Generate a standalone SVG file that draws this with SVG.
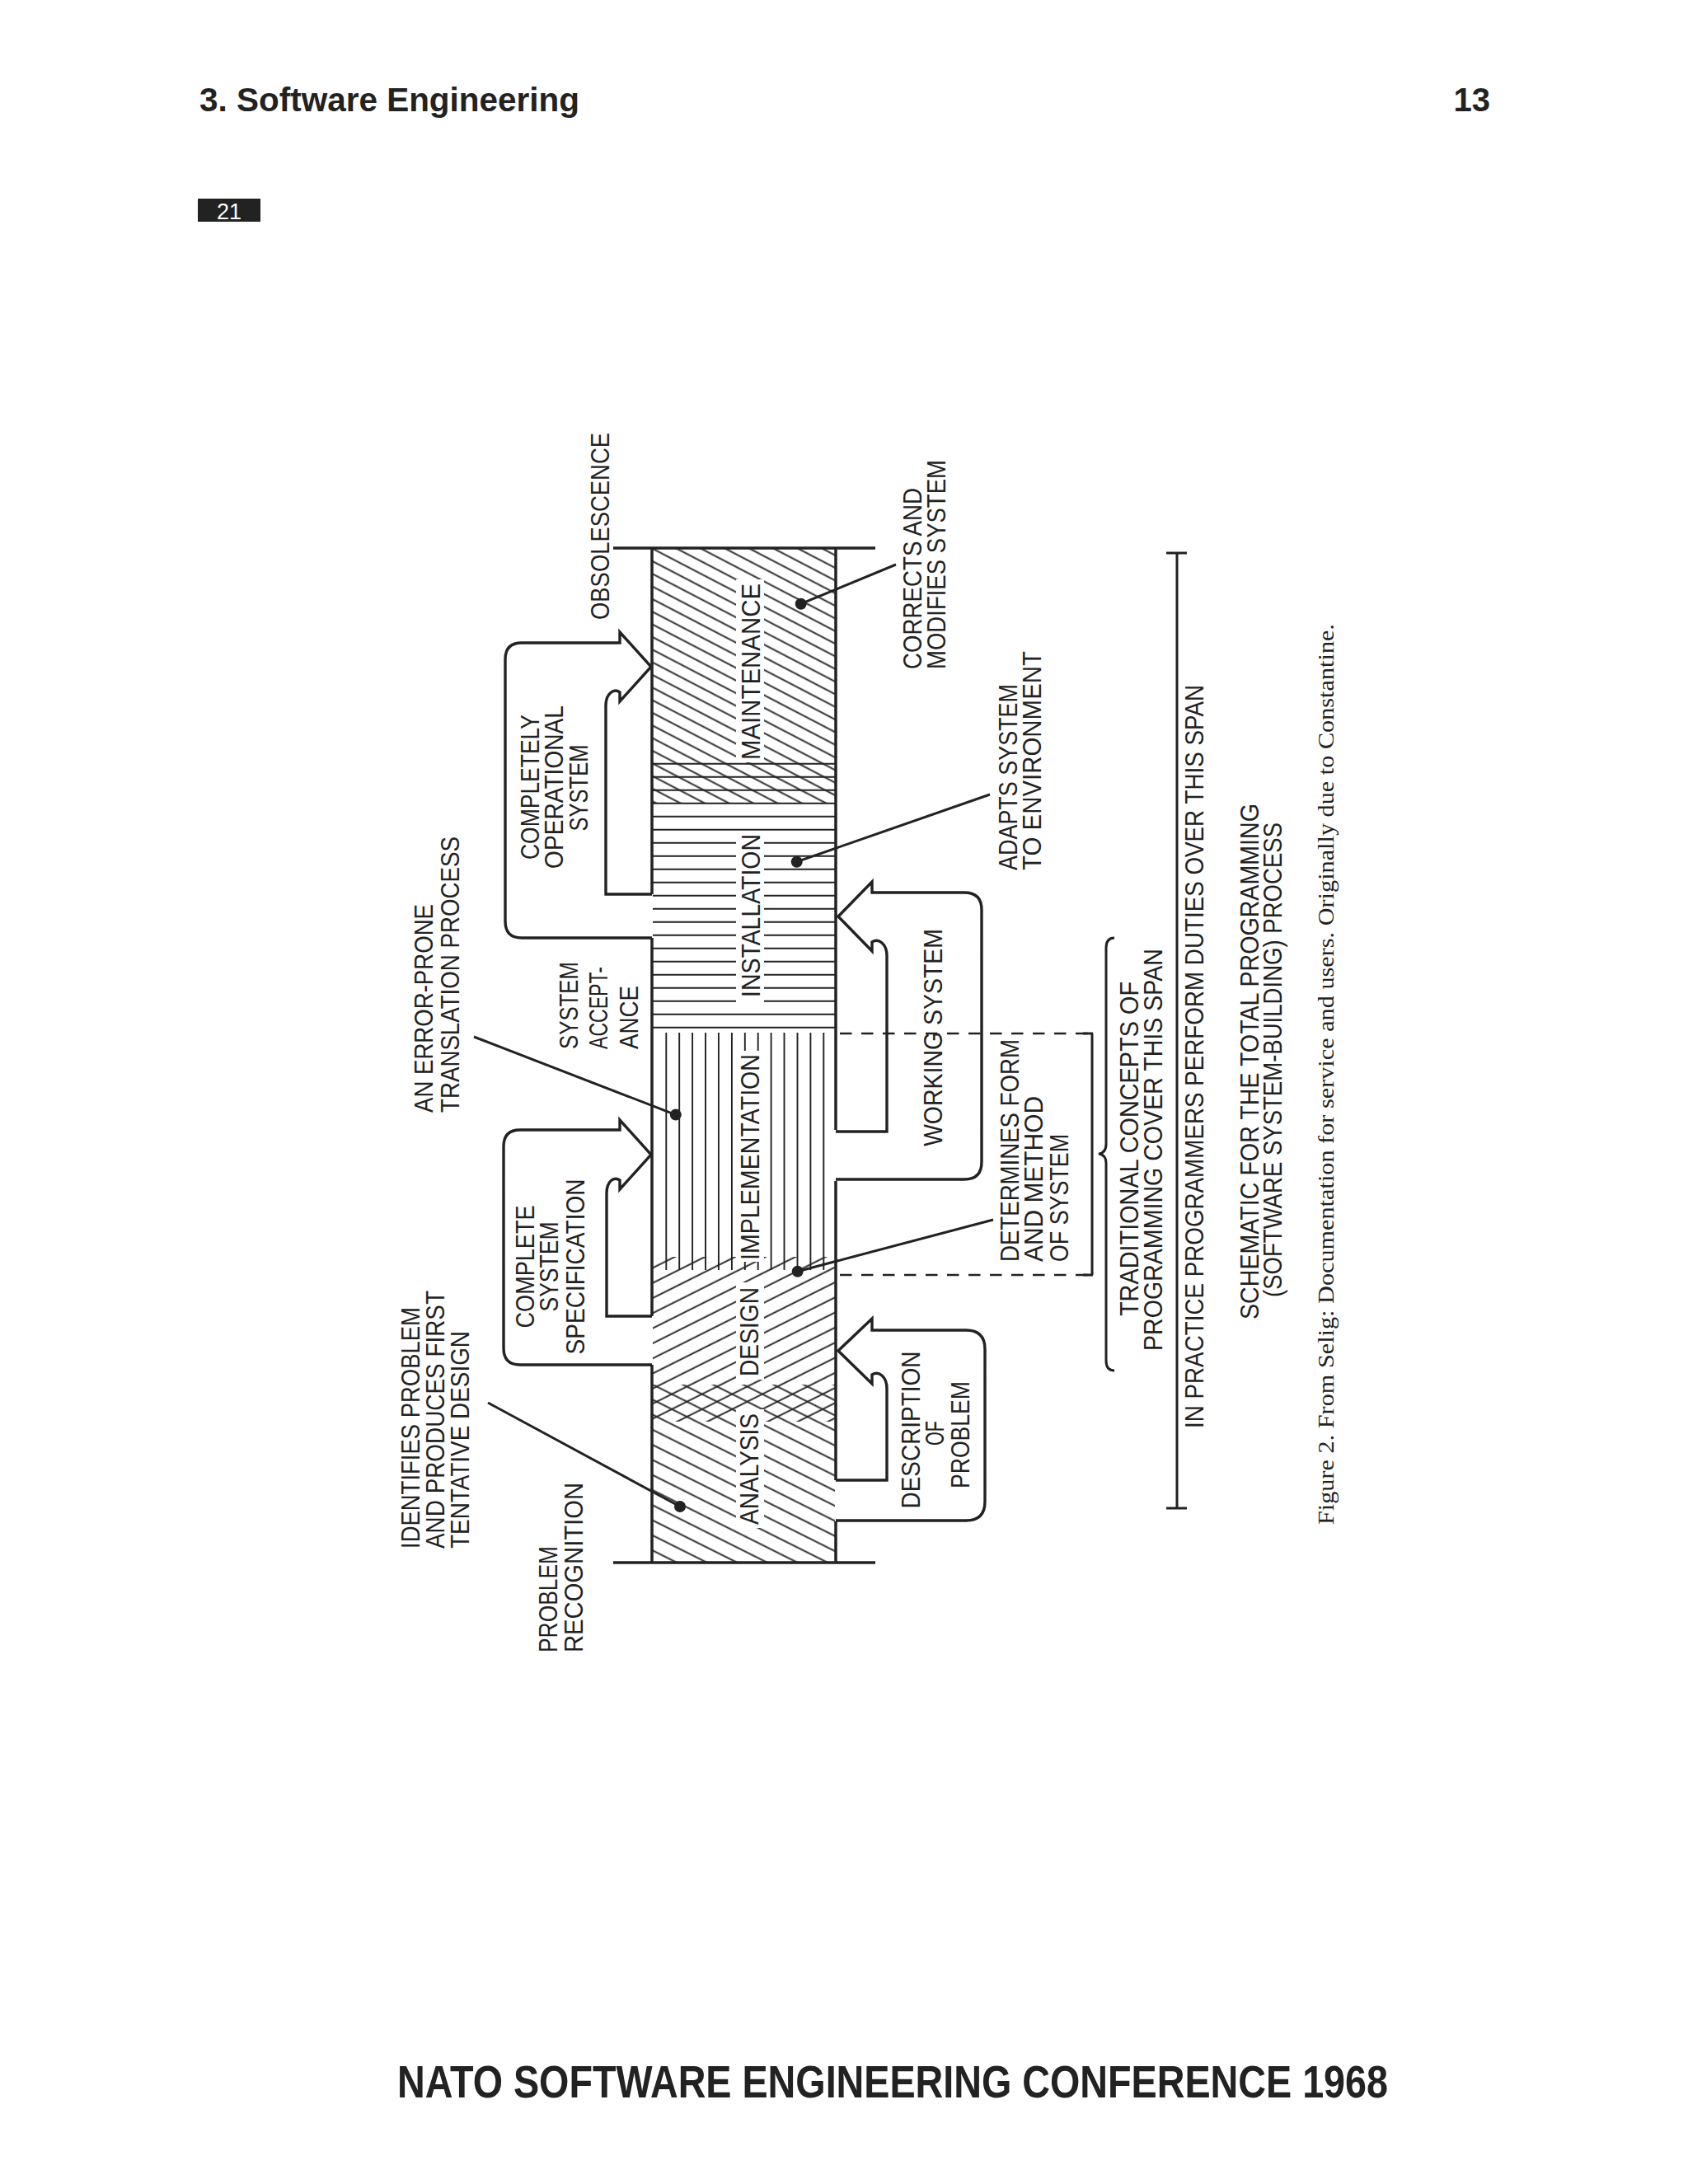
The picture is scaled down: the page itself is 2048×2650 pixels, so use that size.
<svg xmlns="http://www.w3.org/2000/svg" width="2048" height="2650" viewBox="0 0 2048 2650">
<style>
.t{font-family:"Liberation Sans",Arial,sans-serif;font-size:32px;fill:#222}
.b{font-family:"Liberation Sans",Arial,sans-serif;font-weight:bold;fill:#222}
.cap{font-family:"Liberation Serif","Times New Roman",serif;font-size:27px;fill:#222}
.edge{fill:none;stroke:#222;stroke-width:3.5}
.arrow{fill:none;stroke:#222;stroke-width:3.4;stroke-linejoin:miter}
.hl{stroke:#222;stroke-width:1.9}
.lead{stroke:#222;stroke-width:3}
.dash{stroke:#222;stroke-width:2.6;stroke-dasharray:14.5 11.5;fill:none}
.br{fill:none;stroke:#222;stroke-width:3}
.gap{fill:#fff}
</style>
<defs>
<pattern id="hMaint" patternUnits="userSpaceOnUse" width="40" height="13.6" patternTransform="rotate(27.5)"><rect x="0" y="6.35" width="40" height="1.9" fill="#222"/></pattern>
<pattern id="hDesign" patternUnits="userSpaceOnUse" width="40" height="16.37" patternTransform="rotate(-26.57)"><rect x="0" y="10.35" width="40" height="1.9" fill="#222"/></pattern>
<pattern id="hAnal" patternUnits="userSpaceOnUse" width="40" height="16.37" patternTransform="rotate(26.57)"><rect x="0" y="1.5" width="40" height="1.9" fill="#222"/></pattern>
</defs>
<rect width="2048" height="2650" fill="#fff"/>

<g id="header">
<text class="b" x="242" y="135" font-size="40" textLength="461" lengthAdjust="spacingAndGlyphs">3. Software Engineering</text>
<text class="b" x="1808" y="135" font-size="40" text-anchor="end">13</text>
<rect x="240" y="241" width="76" height="28" fill="#222"/>
<text x="278" y="266" font-family="Liberation Sans,Arial,sans-serif" font-size="27" fill="#fff" text-anchor="middle">21</text>
</g>

<g id="hatching">
<rect x="792" y="665" width="221" height="310" fill="url(#hMaint)"/>
<path class="hl" d="M792,926.7H1013M792,942.7H1013M792,958.7H1013M792,974.7H1013M792,990.7H1013M792,1006.7H1013M792,1022.7H1013M792,1038.7H1013M792,1054.7H1013M792,1070.7H1013M792,1086.7H1013M792,1102.7H1013M792,1118.7H1013M792,1134.7H1013M792,1150.7H1013M792,1166.7H1013M792,1182.7H1013M792,1198.7H1013M792,1214.7H1013M792,1230.7H1013M792,1246.7H1013"/>
<path class="hl" d="M808.3,1253V1541M824.2,1253V1541M840.1,1253V1541M856,1253V1541M871.9,1253V1541M887.9,1253V1541M903.8,1253V1541M919.7,1253V1541M935.6,1253V1541M951.5,1253V1541M967.5,1253V1541M983.4,1253V1541M999.3,1253V1541"/>
<rect x="792" y="1525" width="221" height="200" fill="url(#hDesign)"/>
<rect x="792" y="1680" width="221" height="216" fill="url(#hAnal)"/>
<rect class="gap" x="893" y="703" width="34" height="222"/>
<rect class="gap" x="893" y="1010" width="34" height="210"/>
<rect class="gap" x="893" y="1275" width="34" height="256"/>
<rect class="gap" x="893" y="1556" width="34" height="118"/>
<rect class="gap" x="893" y="1710" width="34" height="144"/>
</g>

<g id="band">
<path class="edge" d="M744,665H1062M744,1896H1062M791,665V1085M791,1138V1597M791,1656V1896M1014,665V1371M1014,1433V1796M1014,1846V1896"/>
</g>

<g id="phase-maintenance"><text class="t" transform="translate(922,922) rotate(-90)" textLength="214" lengthAdjust="spacingAndGlyphs">MAINTENANCE</text></g>
<g id="phase-installation"><text class="t" transform="translate(922,1210) rotate(-90)" textLength="198" lengthAdjust="spacingAndGlyphs">INSTALLATION</text></g>
<g id="phase-implementation"><text class="t" transform="translate(921,1529) rotate(-90)" textLength="250" lengthAdjust="spacingAndGlyphs">IMPLEMENTATION</text></g>
<g id="phase-design"><text class="t" transform="translate(920,1670) rotate(-90)" textLength="108" lengthAdjust="spacingAndGlyphs">DESIGN</text></g>
<g id="phase-analysis"><text class="t" transform="translate(920,1850) rotate(-90)" textLength="135" lengthAdjust="spacingAndGlyphs">ANALYSIS</text></g>

<g id="milestone-obsolescence"><text class="t" font-size="33" transform="translate(739,752) rotate(-90)" textLength="227" lengthAdjust="spacingAndGlyphs">OBSOLESCENCE</text></g>
<g id="milestone-problem-recognition">
<text class="t" transform="translate(676,2005) rotate(-90)" textLength="129" lengthAdjust="spacingAndGlyphs">PROBLEM</text>
<text class="t" transform="translate(707,2005) rotate(-90)" textLength="206" lengthAdjust="spacingAndGlyphs">RECOGNITION</text>
</g>
<g id="milestone-system-acceptance">
<text class="t" transform="translate(701,1273) rotate(-90)" textLength="106" lengthAdjust="spacingAndGlyphs">SYSTEM</text>
<text class="t" transform="translate(737,1273) rotate(-90)" textLength="100" lengthAdjust="spacingAndGlyphs">ACCEPT-</text>
<text class="t" transform="translate(774,1273) rotate(-90)" textLength="77" lengthAdjust="spacingAndGlyphs">ANCE</text>
</g>

<g id="arrow-completely-operational">
<path class="arrow" d="M791,1138H633Q613,1138 613,1118V800Q613,780 633,780H752V767L790,809L752,851V840C745,835 735,841 735,856V1085H791"/>
<text class="t" text-anchor="middle" transform="translate(654,955) rotate(-90)" textLength="176" lengthAdjust="spacingAndGlyphs">COMPLETELY</text>
<text class="t" text-anchor="middle" transform="translate(683,955) rotate(-90)" textLength="198" lengthAdjust="spacingAndGlyphs">OPERATIONAL</text>
<text class="t" text-anchor="middle" transform="translate(713,956) rotate(-90)" textLength="105" lengthAdjust="spacingAndGlyphs">SYSTEM</text>
</g>

<g id="arrow-complete-specification">
<path class="arrow" d="M791,1656H631Q611,1656 611,1636V1391Q611,1371 631,1371H752V1359L790,1401L752,1443V1432C745,1427 736,1433 736,1448V1597H791"/>
<text class="t" text-anchor="middle" transform="translate(648,1537) rotate(-90)" textLength="149" lengthAdjust="spacingAndGlyphs">COMPLETE</text>
<text class="t" text-anchor="middle" transform="translate(677,1537) rotate(-90)" textLength="109" lengthAdjust="spacingAndGlyphs">SYSTEM</text>
<text class="t" text-anchor="middle" transform="translate(709,1537) rotate(-90)" textLength="213" lengthAdjust="spacingAndGlyphs">SPECIFICATION</text>
</g>

<g id="arrow-working-system">
<path class="arrow" d="M1014,1431H1170Q1191,1431 1191,1410V1104Q1191,1083 1170,1083H1058V1070L1017,1112L1058,1154V1143C1066,1138 1076,1145 1076,1160V1373H1014"/>
<text class="t" text-anchor="middle" transform="translate(1143,1259) rotate(-90)" textLength="264" lengthAdjust="spacingAndGlyphs">WORKING SYSTEM</text>
</g>

<g id="arrow-description-of-problem">
<path class="arrow" d="M1014,1845H1172Q1195,1845 1195,1822V1637Q1195,1614 1172,1614H1058V1600L1017,1639L1058,1679V1668C1066,1663 1076,1670 1076,1685V1796H1014"/>
<text class="t" text-anchor="middle" transform="translate(1116,1735) rotate(-90)" textLength="191" lengthAdjust="spacingAndGlyphs">DESCRIPTION</text>
<text class="t" text-anchor="middle" transform="translate(1145,1739) rotate(-90)" textLength="30" lengthAdjust="spacingAndGlyphs">OF</text>
<text class="t" text-anchor="middle" transform="translate(1176,1741) rotate(-90)" textLength="130" lengthAdjust="spacingAndGlyphs">PROBLEM</text>
</g>

<g id="note-identifies-problem">
<text class="t" transform="translate(509,1879) rotate(-90)" textLength="293" lengthAdjust="spacingAndGlyphs">IDENTIFIES PROBLEM</text>
<text class="t" transform="translate(539,1879) rotate(-90)" textLength="313" lengthAdjust="spacingAndGlyphs">AND PRODUCES FIRST</text>
<text class="t" transform="translate(569,1879) rotate(-90)" textLength="264" lengthAdjust="spacingAndGlyphs">TENTATIVE DESIGN</text>
</g>
<g id="note-error-prone">
<text class="t" transform="translate(525,1350) rotate(-90)" textLength="253" lengthAdjust="spacingAndGlyphs">AN ERROR-PRONE</text>
<text class="t" transform="translate(557,1350) rotate(-90)" textLength="335" lengthAdjust="spacingAndGlyphs">TRANSLATION PROCESS</text>
</g>
<g id="note-corrects">
<text class="t" transform="translate(1118,812) rotate(-90)" textLength="220" lengthAdjust="spacingAndGlyphs">CORRECTS AND</text>
<text class="t" transform="translate(1147,812) rotate(-90)" textLength="254" lengthAdjust="spacingAndGlyphs">MODIFIES SYSTEM</text>
</g>
<g id="note-adapts">
<text class="t" transform="translate(1234,1056) rotate(-90)" textLength="226" lengthAdjust="spacingAndGlyphs">ADAPTS SYSTEM</text>
<text class="t" transform="translate(1263,1056) rotate(-90)" textLength="266" lengthAdjust="spacingAndGlyphs">TO ENVIRONMENT</text>
</g>
<g id="note-determines">
<text class="t" transform="translate(1236,1531) rotate(-90)" textLength="270" lengthAdjust="spacingAndGlyphs">DETERMINES FORM</text>
<text class="t" transform="translate(1265,1531) rotate(-90)" textLength="201" lengthAdjust="spacingAndGlyphs">AND METHOD</text>
<text class="t" transform="translate(1296,1531) rotate(-90)" textLength="155" lengthAdjust="spacingAndGlyphs">OF SYSTEM</text>
</g>
<g id="note-traditional">
<text class="t" text-anchor="middle" transform="translate(1381,1394) rotate(-90)" textLength="406" lengthAdjust="spacingAndGlyphs">TRADITIONAL CONCEPTS OF</text>
<text class="t" text-anchor="middle" transform="translate(1410,1395) rotate(-90)" textLength="488" lengthAdjust="spacingAndGlyphs">PROGRAMMING COVER THIS SPAN</text>
</g>
<g id="note-in-practice">
<text class="t" transform="translate(1460,1733) rotate(-90)" textLength="902" lengthAdjust="spacingAndGlyphs">IN PRACTICE PROGRAMMERS PERFORM DUTIES OVER THIS SPAN</text>
</g>
<g id="title-schematic">
<text class="t" text-anchor="middle" transform="translate(1527,1288) rotate(-90)" textLength="626" lengthAdjust="spacingAndGlyphs">SCHEMATIC FOR THE TOTAL PROGRAMMING</text>
<text class="t" text-anchor="middle" transform="translate(1555,1286) rotate(-90)" textLength="576" lengthAdjust="spacingAndGlyphs">(SOFTWARE SYSTEM-BUILDING) PROCESS</text>
</g>
<g id="caption">
<text class="cap" transform="translate(1618,1850) rotate(-90)" textLength="1093" lengthAdjust="spacingAndGlyphs">Figure 2. From Selig: Documentation for service and users. Originally due to Constantine.</text>
</g>

<g id="connectors">
<line class="lead" x1="1087" y1="685" x2="971.7" y2="732.7"/>
<circle cx="971.7" cy="732.7" r="7" fill="#222"/>
<line class="lead" x1="1201" y1="964" x2="966.7" y2="1045.7"/>
<circle cx="966.7" cy="1045.7" r="7" fill="#222"/>
<line class="lead" x1="1205" y1="1480" x2="967.7" y2="1542.7"/>
<circle cx="967.7" cy="1542.7" r="7" fill="#222"/>
<line class="lead" x1="575" y1="1258" x2="819.8" y2="1352.6"/>
<circle cx="819.8" cy="1352.6" r="7" fill="#222"/>
<line class="lead" x1="592" y1="1702" x2="825" y2="1828"/>
<circle cx="825" cy="1828" r="7" fill="#222"/>
<path class="dash" d="M1019,1254H1325M1019,1547H1325"/>
<path class="br" d="M1325,1254V1547M1314,1254H1326M1314,1547H1326"/>
<path class="br" d="M1352,1138Q1342,1138 1342,1150V1388Q1342,1399 1333,1400Q1342,1401 1342,1412V1651Q1342,1663 1352,1663"/>
<path class="br" stroke-width="3.5" d="M1428,671V1830M1415,671H1440M1415,1830H1440"/>
</g>

<g id="footer">
<text class="b" x="482" y="2545" font-size="56" textLength="1202" lengthAdjust="spacingAndGlyphs">NATO SOFTWARE ENGINEERING CONFERENCE 1968</text>
</g>
</svg>
